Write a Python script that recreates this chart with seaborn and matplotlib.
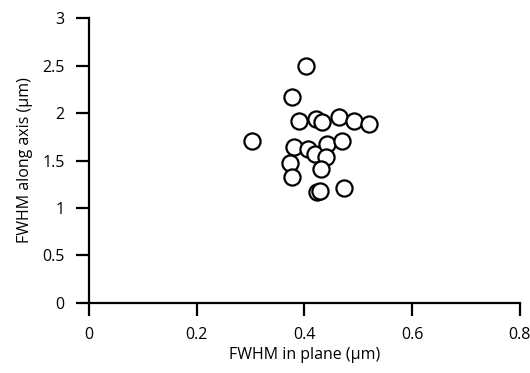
import matplotlib
matplotlib.use("Agg")
import matplotlib.pyplot as plt
import seaborn as sns
import pandas as pd

# FWHM values (um)
fwhm_plane = [0.402, 0.376, 0.389, 0.421, 0.432, 0.465, 0.492, 0.520, 0.303,
              0.381, 0.407, 0.420, 0.442, 0.470, 0.440, 0.374, 0.431, 0.377,
              0.423, 0.429, 0.474]
fwhm_axis = [2.49, 2.165, 1.92, 1.937, 1.905, 1.961, 1.916, 1.884, 1.708,
             1.639, 1.618, 1.565, 1.674, 1.705, 1.533, 1.470, 1.41, 1.323,
             1.168, 1.18, 1.21]

df = pd.DataFrame({"plane": fwhm_plane, "axis": fwhm_axis})

sns.set_style("ticks")
plt.rcParams["font.family"] = ["Open Sans", "DejaVu Sans"]
plt.rcParams["axes.labelcolor"] = "black"

fig = plt.figure(figsize=(5.3, 3.73), dpi=100)
ax = fig.add_axes([0.168, 0.1877, 0.813, 0.764])

sns.scatterplot(data=df, x="plane", y="axis", ax=ax, s=135,
                facecolor="white", edgecolor="black", linewidth=1.6,
                zorder=3, clip_on=False)

ax.set_xlim(0, 0.8)
ax.set_ylim(0, 3)
ax.set_xticks([0, 0.2, 0.4, 0.6, 0.8])
ax.set_xticklabels(["0", "0.2", "0.4", "0.6", "0.8"])
ax.set_yticks([0, 0.5, 1, 1.5, 2, 2.5, 3])
ax.set_yticklabels(["0", "0.5", "1", "1.5", "2", "2.5", "3"])

ax.set_xlabel("FWHM in plane (µm)", fontsize=11.5, labelpad=3, color="black")
ax.set_ylabel("FWHM along axis (µm)", fontsize=11.5, labelpad=7, color="black")

sns.despine(ax=ax)
for side in ("left", "bottom"):
    ax.spines[side].set_linewidth(1.6)
    ax.spines[side].set_color("black")
ax.tick_params(axis="both", direction="out", length=9.5, width=1.6,
               labelsize=11.5, color="black", labelcolor="black", pad=8)

fig.savefig("out.png", dpi=100)
